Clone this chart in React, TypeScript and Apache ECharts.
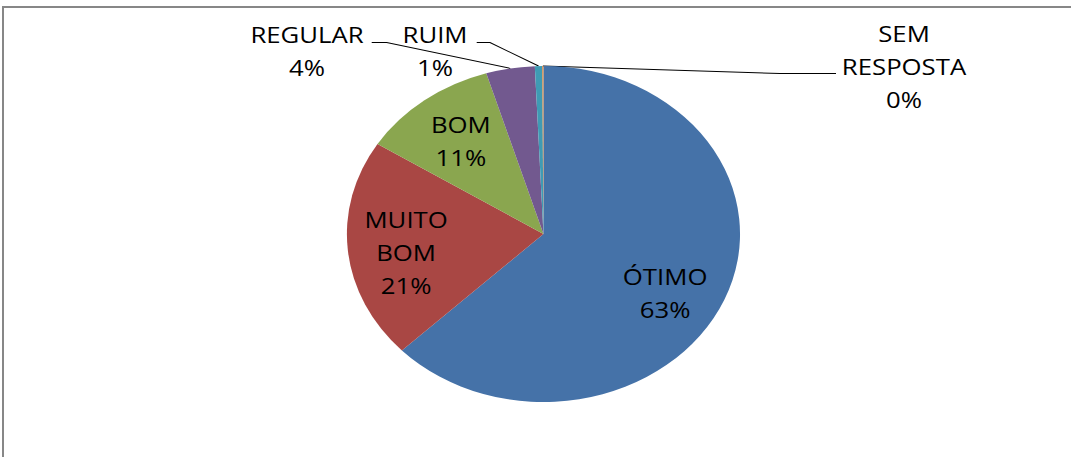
import React, { useEffect, useRef } from "react";
import * as echarts from "echarts";

// ---- data ----
const categories = ["ÓTIMO", "MUITO BOM", "BOM", "REGULAR", "RUIM", "SEM RESPOSTA"];
const values = [62.8, 21.2, 11.3, 4.0, 0.6, 0.1];
const sliceColors = ["#4572A8", "#A94744", "#8AA64F", "#72598F", "#3F9BB4", "#DB843D"];

// ---- layout (chart space, before the horizontal stretch) ----
const STRETCH = 1.17;
const PAGE_W = 1071;
const PAGE_H = 457;
const CHART_W = PAGE_W / STRETCH;
const CX = 464.5;
const CY = 234;
const R = 168;
const FONT = "'Open Sans', 'DejaVu Sans', sans-serif";

const insideNudge: Record<string, { dx: number; dy: number }> = {
  "ÓTIMO": { dx: -10 / STRETCH, dy: 11 },
  "MUITO BOM": { dx: 5 / STRETCH, dy: 6 },
  BOM: { dx: 4 / STRETCH, dy: 4 },
};
const outsideLayout: Record<string, { x: number; y: number; bend: number[]; end: number[] }> = {
  REGULAR: { x: 307 / STRETCH, y: 50.5, bend: [386.7 / STRETCH, 42.5], end: [371.7 / STRETCH, 42.5] },
  RUIM: { x: 435 / STRETCH, y: 50.5, bend: [490 / STRETCH, 42.5], end: [476.7 / STRETCH, 42.5] },
  "SEM RESPOSTA": { x: 904 / STRETCH, y: 66.5, bend: [780 / STRETCH, 73.5], end: [836 / STRETCH, 73.5] },
};

const total = values.reduce((a, b) => a + b, 0);
function edgePoint(i: number): number[] {
  let before = 0;
  for (let k = 0; k < i; k++) before += values[k];
  const mid = ((before + values[i] / 2) / total) * Math.PI * 2;
  return [CX + R * Math.sin(mid), CY - R * Math.cos(mid)];
}

const fmt = (p: any) => `${String(p.name).replace(" ", "\n")}\n${Math.round(p.percent)}%`;

export default function App() {
  const ref = useRef<HTMLDivElement>(null);

  useEffect(() => {
    if (!ref.current) return;
    const chart = echarts.init(ref.current, undefined, { renderer: "svg" });

    const baseLabel = {
      color: "#000",
      fontFamily: FONT,
      fontSize: 22,
      lineHeight: 33,
      align: "center" as const,
      formatter: fmt,
    };

    const visibleData = categories.map((name, i) => {
      const outside = !!outsideLayout[name];
      return {
        name,
        value: values[i],
        itemStyle: { color: sliceColors[i] },
        label: outside ? { show: true, position: "outside" as const } : { show: false },
        labelLine: { show: outside },
      };
    });

    const labelRingData = categories.map((name, i) => ({
      name,
      value: values[i],
      itemStyle: { color: "rgba(0,0,0,0)" },
      label: { show: !!insideNudge[name] },
    }));

    chart.setOption({
      animation: false,
      backgroundColor: "transparent",
      series: [
        {
          type: "pie",
          center: [CX, CY],
          radius: R,
          startAngle: 90,
          clockwise: true,
          avoidLabelOverlap: false,
          silent: true,
          itemStyle: { borderWidth: 0 },
          emphasis: { disabled: true },
          label: { ...baseLabel },
          labelLine: { show: true, lineStyle: { color: "#000", width: 1 } },
          labelLayout: (p: any) => {
            const name = categories[p.dataIndex];
            const cfg = outsideLayout[name];
            if (!cfg) return {};
            const p0 = p.labelLinePoints && p.labelLinePoints[0] ? p.labelLinePoints[0] : edgePoint(p.dataIndex);
            return {
              x: cfg.x,
              y: cfg.y,
              align: "center",
              verticalAlign: "middle",
              labelLinePoints: [p0, cfg.bend, cfg.end],
            };
          },
          data: visibleData,
        },
        {
          type: "pie",
          center: [CX, CY],
          radius: [R * 0.42, R],
          startAngle: 90,
          clockwise: true,
          avoidLabelOverlap: false,
          silent: true,
          itemStyle: { borderWidth: 0 },
          emphasis: { disabled: true },
          label: { ...baseLabel, position: "inside" },
          labelLine: { show: false },
          labelLayout: (p: any) => {
            const n = insideNudge[categories[p.dataIndex]];
            return n ? { dx: n.dx, dy: n.dy } : {};
          },
          data: labelRingData,
        },
      ],
    });

    return () => chart.dispose();
  }, []);

  return (
    <div
      style={{
        position: "fixed",
        left: 0,
        top: 0,
        width: PAGE_W,
        height: PAGE_H,
        background: "#fff",
        overflow: "hidden",
      }}
    >
      <div
        style={{
          position: "absolute",
          left: 2,
          top: 6,
          width: PAGE_W + 10,
          height: PAGE_H + 10,
          borderTop: "2px solid #878787",
          borderLeft: "2px solid #878787",
          boxSizing: "border-box",
        }}
      />
      <div
        ref={ref}
        style={{
          position: "absolute",
          left: 0,
          top: 0,
          width: CHART_W,
          height: PAGE_H,
          transform: `scaleX(${STRETCH})`,
          transformOrigin: "0 0",
        }}
      />
    </div>
  );
}
